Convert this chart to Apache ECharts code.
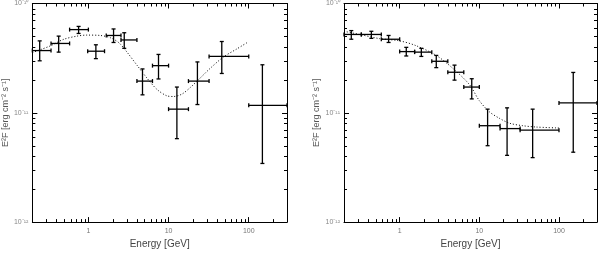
<!DOCTYPE html>
<html><head><meta charset="utf-8">
<script src="https://cdn.jsdelivr.net/npm/echarts@6/dist/echarts.min.js"></script>
<style>html,body{margin:0;padding:0;background:#fff}#c{width:600px;height:254px}</style>
</head><body><div id="c"></div><script>
// ---- Left panel data ----
const leftE    = [0.247, 0.426, 0.755, 1.24, 2.06, 2.80, 4.73, 7.49, 12.7, 22.9, 46.1, 148];
const leftElo  = [0.2, 0.342, 0.583, 0.98, 1.67, 2.55, 4.03, 6.3, 10.0, 17.7, 32, 100];
const leftEhi  = [0.342, 0.583, 1.0, 1.59, 2.55, 4.03, 6.3, 10.0, 17.7, 32, 100, 300];
const leftF    = [3.71e-11, 4.31e-11, 5.77e-11, 3.66e-11, 5.1e-11, 4.64e-11, 1.95e-11, 2.70e-11, 1.08e-11, 1.95e-11, 3.28e-11, 1.17e-11];
const leftFlo  = [2.99e-11, 3.59e-11, 5.32e-11, 3.13e-11, 4.4e-11, 3.89e-11, 1.46e-11, 2.04e-11, 5.8e-12, 1.19e-11, 2.29e-11, 3.44e-12];
const leftFhi  = [4.55e-11, 5.03e-11, 6.17e-11, 4.19e-11, 5.85e-11, 5.4e-11, 2.52e-11, 3.42e-11, 1.72e-11, 2.92e-11, 4.49e-11, 2.75e-11];
const leftModelE = [0.2, 0.252, 0.336, 0.491, 0.721, 0.96, 1.41, 1.87, 2.38, 3.03, 4.03, 5.37, 7.15, 9.53, 11.5, 14.6, 18.6, 24.8, 33, 48.3, 71, 99];
const leftModelF = [3.55e-11, 3.78e-11, 4.1e-11, 4.7e-11, 5.03e-11, 5.14e-11, 5.1e-11, 4.87e-11, 4.4e-11, 3.59e-11, 2.73e-11, 2.08e-11, 1.64e-11, 1.43e-11, 1.41e-11, 1.48e-11, 1.70e-11, 2.08e-11, 2.55e-11, 3.24e-11, 3.84e-11, 4.46e-11];

// ---- Right panel data ----
const rightE   = [0.247, 0.441, 0.726, 1.21, 1.87, 2.88, 4.88, 8.03, 12.7, 22.3, 46.7, 151];
const rightElo = [0.2, 0.33, 0.588, 1.0, 1.54, 2.53, 4.02, 6.38, 10, 18.2, 32.5, 100];
const rightEhi = [0.33, 0.588, 1.0, 1.54, 2.53, 4.02, 6.38, 10, 18.2, 32.5, 100, 300];
const rightF   = [5.21e-11, 5.21e-11, 4.71e-11, 3.63e-11, 3.59e-11, 2.96e-11, 2.35e-11, 1.72e-11, 7.62e-12, 7.17e-12, 6.93e-12, 1.23e-11];
const rightFlo = [4.71e-11, 4.8e-11, 4.4e-11, 3.31e-11, 3.28e-11, 2.59e-11, 1.99e-11, 1.34e-11, 5.0e-12, 4.08e-12, 3.89e-12, 4.36e-12];
const rightFhi = [5.65e-11, 5.57e-11, 5.1e-11, 3.97e-11, 3.89e-11, 3.35e-11, 2.73e-11, 2.05e-11, 1.08e-11, 1.11e-11, 1.08e-11, 2.34e-11];
const rightModelE = [0.2, 0.314, 0.56, 1.0, 1.61, 2.88, 4.65, 7.52, 10, 13.4, 17.9, 23.8, 35, 51.5, 100];
const rightModelF = [5.57e-11, 5.21e-11, 4.77e-11, 4.55e-11, 4.11e-11, 3.35e-11, 2.55e-11, 1.81e-11, 1.29e-11, 1.02e-11, 8.9e-12, 8.04e-12, 7.62e-12, 7.41e-12, 7.26e-12];

// ---- Axes / ticks ----
const xMin = 0.2, xMax = 300, yMin = 1e-12, yMax = 1e-10;
const xMajorTicks = [1, 10, 100];
const xTickLabels = ['1', '10', '100'];
const yMajorTicks = [1e-12, 1e-11, 1e-10];
const yTickLabels = ['10\u207B\u00B9\u00B2', '10\u207B\u00B9\u00B9', '10\u207B\u00B9\u2070'];
const xMinorTicks = [0.3, 0.4, 0.5, 0.6, 0.7, 0.8, 0.9, 2, 3, 4, 5, 6, 7, 8, 9, 20, 30, 40, 50, 60, 70, 80, 90, 200];
const yMinorTicks = [2e-12, 3e-12, 4e-12, 5e-12, 6e-12, 7e-12, 8e-12, 9e-12, 2e-11, 3e-11, 4e-11, 5e-11, 6e-11, 7e-11, 8e-11, 9e-11];
const xTitle = 'Energy [GeV]';
const yTitle = 'E\u00B2F [erg cm\u207B\u00B2 s\u207B\u00B9]';

const FONT = 'Liberation Sans';
const majorLen = 5, minorLen = 3;

function lookup(ticks, labels, v) {
  for (let i = 0; i < ticks.length; i++) {
    if (Math.abs(Math.log10(v) - Math.log10(ticks[i])) < 1e-6) return labels[i];
  }
  return '';
}

const grids = [
  { left: 32, top: 3, width: 255, height: 226 },
  { left: 344, top: 3, width: 254, height: 226 }
];
const yNameGap = [20, 23];

const xAxes = [], yAxes = [];
grids.forEach((g, gi) => {
  const common = { type: 'log', logBase: 10, min: xMin, max: xMax, gridIndex: gi,
    axisLine: { show: true, lineStyle: { color: '#000', width: 1 } },
    axisTick: { show: true, inside: true, length: majorLen, lineStyle: { color: '#000' } },
    splitLine: { show: false } };
  xAxes.push(Object.assign({}, common, { position: 'bottom',
    name: xTitle, nameLocation: 'middle', nameGap: 14,
    nameTextStyle: { fontFamily: FONT, fontSize: 10, color: '#444' },
    axisLabel: { show: true, margin: 5, fontFamily: FONT, fontSize: 7, color: '#777',
      formatter: v => lookup(xMajorTicks, xTickLabels, v) } }));
  xAxes.push(Object.assign({}, common, { position: 'top', axisLabel: { show: false } }));
  const ycommon = { type: 'log', logBase: 10, min: yMin, max: yMax, gridIndex: gi,
    axisLine: { show: true, lineStyle: { color: '#000', width: 1 } },
    axisTick: { show: true, inside: true, length: majorLen, lineStyle: { color: '#000' } },
    splitLine: { show: false } };
  yAxes.push(Object.assign({}, ycommon, { position: 'left',
    name: yTitle, nameLocation: 'middle', nameGap: yNameGap[gi], nameRotate: 90,
    nameTextStyle: { fontFamily: FONT, fontSize: 9, color: '#555' },
    axisLabel: { show: true, margin: 4, fontFamily: FONT, fontSize: 7, color: '#888',
      formatter: v => lookup(yMajorTicks, yTickLabels, v) } }));
  yAxes.push(Object.assign({}, ycommon, { position: 'right', axisLabel: { show: false } }));
});

function errRender(params, api) {
  const x = api.value(0), y = api.value(1);
  const xl = api.value(2), xh = api.value(3), yl = api.value(4), yh = api.value(5);
  const a = api.coord([xl, y]), b = api.coord([xh, y]);
  const c = api.coord([x, yl]), d = api.coord([x, yh]);
  const cap = 2;
  const st = { stroke: '#000', lineWidth: 1.3 };
  return { type: 'group', children: [
    { type: 'line', shape: { x1: a[0], y1: a[1], x2: b[0], y2: b[1] }, style: st },
    { type: 'line', shape: { x1: c[0], y1: c[1], x2: d[0], y2: d[1] }, style: st },
    { type: 'line', shape: { x1: a[0], y1: a[1] - cap, x2: a[0], y2: a[1] + cap }, style: st },
    { type: 'line', shape: { x1: b[0], y1: b[1] - cap, x2: b[0], y2: b[1] + cap }, style: st },
    { type: 'line', shape: { x1: c[0] - cap, y1: c[1], x2: c[0] + cap, y2: c[1] }, style: st },
    { type: 'line', shape: { x1: d[0] - cap, y1: d[1], x2: d[0] + cap, y2: d[1] }, style: st }
  ] };
}
function xMinorRender(params, api) {
  const v = api.value(0);
  const b = api.coord([v, yMin]), t = api.coord([v, yMax]);
  const st = { stroke: '#000', lineWidth: 1 };
  const px = Math.round(b[0]) + 0.5;
  return { type: 'group', children: [
    { type: 'line', shape: { x1: px, y1: b[1], x2: px, y2: b[1] - minorLen }, style: st },
    { type: 'line', shape: { x1: px, y1: t[1], x2: px, y2: t[1] + minorLen }, style: st }
  ] };
}
function yMinorRender(params, api) {
  const v = api.value(1);
  const l = api.coord([xMin, v]), r = api.coord([xMax, v]);
  const st = { stroke: '#000', lineWidth: 1 };
  const py = Math.round(l[1]) + 0.5;
  return { type: 'group', children: [
    { type: 'line', shape: { x1: l[0], y1: py, x2: l[0] + minorLen, y2: py }, style: st },
    { type: 'line', shape: { x1: r[0], y1: py, x2: r[0] - minorLen, y2: py }, style: st }
  ] };
}

const panels = [
  { E: leftE, Elo: leftElo, Ehi: leftEhi, F: leftF, Flo: leftFlo, Fhi: leftFhi, mE: leftModelE, mF: leftModelF },
  { E: rightE, Elo: rightElo, Ehi: rightEhi, F: rightF, Flo: rightFlo, Fhi: rightFhi, mE: rightModelE, mF: rightModelF }
];
const series = [];
panels.forEach((p, gi) => {
  const xi = gi * 2, yi = gi * 2;
  series.push({ type: 'line', xAxisIndex: xi, yAxisIndex: yi, showSymbol: false, smooth: 0.3,
    data: p.mE.map((e, i) => [e, p.mF[i]]), silent: true,
    lineStyle: { color: '#000', width: 1, type: [1, 2] } });
  series.push({ type: 'custom', xAxisIndex: xi, yAxisIndex: yi, renderItem: errRender, silent: true,
    encode: { x: 0, y: 1 },
    data: p.E.map((e, i) => [e, p.F[i], p.Elo[i], p.Ehi[i], p.Flo[i], p.Fhi[i]]) });
  series.push({ type: 'custom', xAxisIndex: xi, yAxisIndex: yi, renderItem: xMinorRender, silent: true,
    encode: { x: 0, y: 1 }, data: xMinorTicks.map(v => [v, yMin]) });
  series.push({ type: 'custom', xAxisIndex: xi, yAxisIndex: yi, renderItem: yMinorRender, silent: true,
    encode: { x: 0, y: 1 }, data: yMinorTicks.map(v => [xMin, v]) });
});

const chart = echarts.init(document.getElementById('c'), null, { renderer: 'canvas' });
chart.setOption({
  animation: false,
  backgroundColor: '#fff',
  grid: grids,
  xAxis: xAxes,
  yAxis: yAxes,
  series: series
});
</script></body></html>
